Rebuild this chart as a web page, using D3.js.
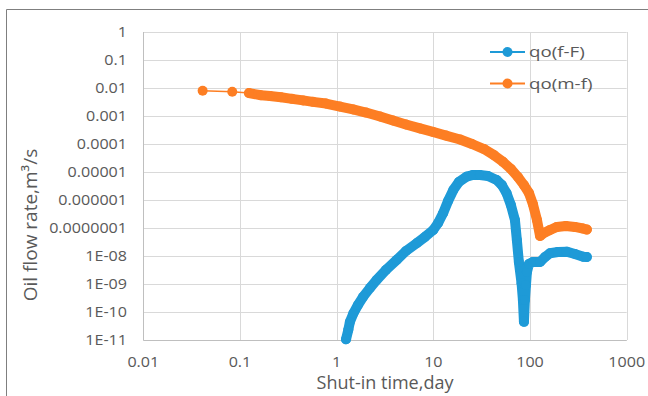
<!DOCTYPE html>
<html>
<head>
<meta charset="utf-8">
<script src="https://cdn.jsdelivr.net/npm/d3@7"></script>
<style>
  body { margin: 0; background: #fff; }
  text { font-family: "Open Sans", sans-serif; fill: #595959; }
</style>
</head>
<body>
<svg id="chart" width="648" height="396"></svg>
<script>
// axis ticks
const xTicks = [0.01, 0.1, 1, 10, 100, 1000];
const xTickLabels = ["0.01", "0.1", "1", "10", "100", "1000"];
const yTicks = [1, 0.1, 0.01, 0.001, 0.0001, 0.00001, 0.000001, 0.0000001, 1e-8, 1e-9, 1e-10, 1e-11];
const yTickLabels = ["1", "0.1", "0.01", "0.001", "0.0001", "0.00001", "0.000001", "0.0000001",
  "1E-08", "1E-09", "1E-10", "1E-11"];

const seriesNames = ["qo(f-F)", "qo(m-f)"];

// qo(f-F)
const fFTime = [1.25, 1.32, 1.37, 1.49, 1.66, 1.88, 2.21, 2.59, 3.24, 4.17, 5.21, 6.72, 8.18, 9.98,
  11.2, 12.6, 14.2, 16.1, 18.4, 22.1, 25.6, 30.3, 36.7, 45.2, 51.2, 57.3, 63.4, 69.8, 73.1, 76.7,
  81.8, 84.4, 86.5, 88.5, 90.8, 92.9, 97.5, 107, 127, 143, 161, 194, 239, 291, 355, 387];
const fFRate = [1.06e-11, 2.3e-11, 4.4e-11, 9.0e-11, 1.78e-10, 3.5e-10, 7.2e-10, 1.39e-9, 3.2e-9,
  7.2e-9, 1.51e-8, 2.84e-8, 4.8e-8, 8.5e-8, 1.51e-7, 3.35e-7, 9.2e-7, 2.28e-6, 4.4e-6, 6.8e-6,
  7.8e-6, 7.8e-6, 7.2e-6, 5.2e-6, 3.4e-6, 1.73e-6, 6.6e-7, 1.93e-7, 3.7e-8, 6.1e-9, 1.06e-9,
  2.7e-10, 4.5e-11, 2.7e-10, 9.2e-10, 2.7e-9, 5.2e-9, 6.1e-9, 6.1e-9, 9.2e-9, 1.25e-8, 1.39e-8,
  1.43e-8, 1.18e-8, 9.4e-9, 9.2e-9];

// qo(m-f)
const mfTime = [0.0411, 0.0832, 0.124, 0.165, 0.204, 0.265, 0.345, 0.449, 0.569, 0.774, 1.08, 1.48,
  2.01, 2.81, 3.82, 5.21, 7.28, 9.91, 13.5, 18.9, 25.1, 33.4, 42.4, 52.5, 63.5, 75.0, 86.5, 97.5,
  107, 118, 127, 139, 161, 190, 235, 291, 352, 387];
const mfRate = [8.0e-3, 7.4e-3, 6.6e-3, 5.5e-3, 5.2e-3, 4.65e-3, 4.1e-3, 3.6e-3, 3.2e-3, 2.79e-3,
  2.18e-3, 1.71e-3, 1.33e-3, 9.6e-4, 6.9e-4, 5.0e-4, 3.6e-4, 2.7e-4, 2.0e-4, 1.45e-4, 1.0e-4,
  6.6e-5, 4.0e-5, 2.3e-5, 1.28e-5, 6.6e-6, 3.4e-6, 1.78e-6, 7.2e-7, 1.93e-7, 5.2e-8, 6.6e-8,
  8.5e-8, 1.09e-7, 1.18e-7, 1.09e-7, 9.6e-8, 8.8e-8];

const COLORS = ["#1e9ad7", "#fd7e23"];
const R = 5;
const STRETCH = 1.15; // the picture's text is a bit wide for its height

const svg = d3.select("#chart");

const x = d3.scaleLog().domain([0.01, 1000]).range([143.3, 626.7]);
const y = d3.scaleLog().domain([1e-11, 1]).range([340, 32]);

// outer frame (only top and left edge are inside the picture)
svg.append("path")
  .attr("d", "M6.5,396V9.5H648")
  .attr("fill", "none")
  .attr("stroke", "#7f7f7f");

// grid
svg.append("g")
  .selectAll("line")
  .data(yTicks)
  .join("line")
  .attr("x1", x.range()[0]).attr("x2", x.range()[1])
  .attr("y1", d => Math.round(y(d)) + 0.5).attr("y2", d => Math.round(y(d)) + 0.5)
  .attr("stroke", "#d9d9d9");

svg.append("g")
  .selectAll("line")
  .data(xTicks)
  .join("line")
  .attr("x1", d => Math.round(x(d)) + 0.5).attr("x2", d => Math.round(x(d)) + 0.5)
  .attr("y1", y.range()[1]).attr("y2", y.range()[0])
  .attr("stroke", d => d === 0.01 ? "#bfbfbf" : "#d9d9d9");

svg.append("line")
  .attr("x1", x.range()[0]).attr("x2", x.range()[1])
  .attr("y1", Math.round(y(1e-11)) + 0.5).attr("y2", Math.round(y(1e-11)) + 0.5)
  .attr("stroke", "#bfbfbf");

// tick labels
svg.append("g")
  .selectAll("text")
  .data(yTicks)
  .join("text")
  .attr("transform", d => `translate(127,${y(d)}) scale(${STRETCH},1)`)
  .attr("dy", "0.35em")
  .attr("text-anchor", "end")
  .attr("font-size", 14)
  .text((d, i) => yTickLabels[i]);

svg.append("g")
  .selectAll("text")
  .data(xTicks)
  .join("text")
  .attr("transform", d => `translate(${x(d)},367) scale(${STRETCH},1)`)
  .attr("text-anchor", "middle")
  .attr("font-size", 14)
  .text((d, i) => xTickLabels[i]);

// axis titles
svg.append("text")
  .attr("x", 385)
  .attr("y", 389)
  .attr("text-anchor", "middle")
  .attr("font-size", 18)
  .text("Shut-in time,day");

svg.append("text")
  .attr("transform", "translate(37,225) rotate(-90)")
  .attr("text-anchor", "middle")
  .attr("font-size", 19)
  .text("Oil flow rate,m³/s");

// series
function drawSeries(times, rates, color) {
  const pts = times.map((t, i) => [x(t), y(rates[i])]);
  const g = svg.append("g");

  g.append("path")
    .attr("d", d3.line()(pts))
    .attr("fill", "none")
    .attr("stroke", color)
    .attr("stroke-width", 1.5);

  // closely spaced points merge into a solid band, as the dense markers do
  let runs = [], cur = [];
  for (let i = 0; i < pts.length - 1; i++) {
    if (Math.abs(pts[i + 1][0] - pts[i][0]) < 15) {
      if (!cur.length) cur.push(pts[i]);
      cur.push(pts[i + 1]);
    } else if (cur.length) {
      runs.push(cur); cur = [];
    }
  }
  if (cur.length) runs.push(cur);

  g.selectAll("path.band")
    .data(runs)
    .join("path")
    .attr("class", "band")
    .attr("d", d => d3.line()(d))
    .attr("fill", "none")
    .attr("stroke", color)
    .attr("stroke-width", 2 * R)
    .attr("stroke-linecap", "round")
    .attr("stroke-linejoin", "round");

  g.selectAll("circle")
    .data(pts)
    .join("circle")
    .attr("cx", d => d[0])
    .attr("cy", d => d[1])
    .attr("r", R)
    .attr("fill", color);
}

drawSeries(fFTime, fFRate, COLORS[0]);
drawSeries(mfTime, mfRate, COLORS[1]);

// legend
const legend = svg.append("g")
  .selectAll("g")
  .data(seriesNames)
  .join("g")
  .attr("transform", (d, i) => `translate(490,${52 + i * 31.5})`);

legend.append("line")
  .attr("x1", 0).attr("x2", 35)
  .attr("stroke", (d, i) => COLORS[i])
  .attr("stroke-width", 2);

legend.append("circle")
  .attr("cx", 17.5)
  .attr("r", R)
  .attr("fill", (d, i) => COLORS[i]);

legend.append("text")
  .attr("transform", "translate(39,0) scale(1.25,1)")
  .attr("dy", "0.35em")
  .attr("font-size", 15)
  .text(d => d);
</script>
</body>
</html>
